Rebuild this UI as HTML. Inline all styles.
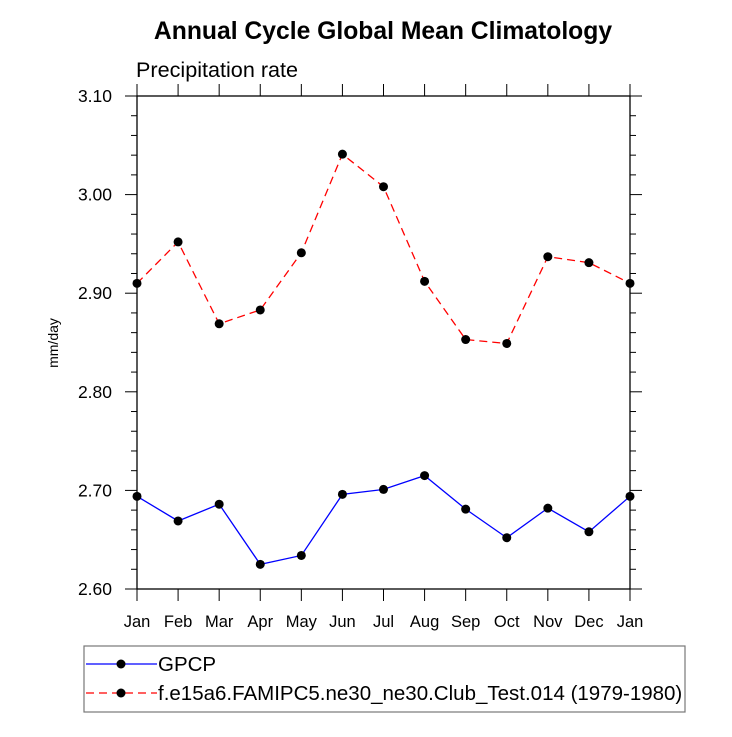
<!DOCTYPE html>
<html><head><meta charset="utf-8"><style>
body{margin:0;background:#fff}
svg text{font-family:"Liberation Sans",sans-serif;fill:#000}
</style></head><body>
<svg id="c" width="732" height="732" viewBox="0 0 732 732" xmlns="http://www.w3.org/2000/svg">
<text x="383" y="39" text-anchor="middle" font-size="24.7" font-weight="bold">Annual Cycle Global Mean Climatology</text>
<text x="136" y="77" font-size="21.6">Precipitation rate</text>
<text transform="translate(58,343) rotate(-90)" text-anchor="middle" font-size="14">mm/day</text>
<g id="axes"></g><g id="series"></g>
<rect x="84" y="646" width="601" height="66" fill="none" stroke="#777" stroke-width="1.2"/>
<g>
<line x1="86" y1="664" x2="157" y2="664" stroke="#00f" stroke-width="1.3"/><circle cx="121" cy="664" r="4.5"/>
<text x="158" y="671" font-size="20.5">GPCP</text></g>
<g>
<line x1="86" y1="693" x2="157" y2="693" stroke="#f00" stroke-width="1.3" stroke-dasharray="8,5"/><circle cx="121" cy="693" r="4.5"/>
<text x="158" y="700" font-size="20.5">f.e15a6.FAMIPC5.ne30_ne30.Club_Test.014 (1979-1980)</text></g>
</svg>
<script>
const months=["Jan","Feb","Mar","Apr","May","Jun","Jul","Aug","Sep","Oct","Nov","Dec","Jan"];
const gpcp=[2.694,2.669,2.686,2.625,2.634,2.696,2.701,2.715,2.681,2.652,2.682,2.658,2.694];
const model=[2.910,2.952,2.869,2.883,2.941,3.041,3.008,2.912,2.853,2.849,2.937,2.931,2.910];
const yTicks=["2.60","2.70","2.80","2.90","3.00","3.10"];
const L=137,R=630,T=96,B=589,ymin=2.6,ymax=3.1;
const xs=i=>L+(R-L)*i/(months.length-1);
const ys=v=>B-(B-T)*(v-ymin)/(ymax-ymin);
const NS="http://www.w3.org/2000/svg";
function mk(t,a,p){const e=document.createElementNS(NS,t);for(const k in a)e.setAttribute(k,a[k]);p.appendChild(e);return e;}
const ax=document.getElementById('axes'),sg=document.getElementById('series');
const fr=mk('rect',{x:L,y:T,width:R-L,height:B-T,fill:'none',stroke:'#000','stroke-width':1.3},ax);


for(let k=0;k<=25;k++){const v=ymin+k*0.02,y=ys(v),maj=k%5===0,len=maj?12:6;
mk('line',{x1:L-len,y1:y,x2:L,y2:y,stroke:'#000','stroke-width':1},ax);
mk('line',{x1:R,y1:y,x2:R+len,y2:y,stroke:'#000','stroke-width':1},ax);}
yTicks.forEach(s=>{const t=mk('text',{x:L-25,y:ys(parseFloat(s))+6,'text-anchor':'end','font-size':17.5},ax);t.textContent=s;

});
months.forEach((m,i)=>{const x=xs(i);
mk('line',{x1:x,y1:B,x2:x,y2:B+12,stroke:'#000','stroke-width':1},ax);
mk('line',{x1:x,y1:T,x2:x,y2:T-12,stroke:'#000','stroke-width':1},ax);
const t=mk('text',{x:x,y:B+38,'text-anchor':'middle','font-size':16.5},ax);t.textContent=m;

});
function draw(d,col,dash,name){const p=mk('polyline',{points:d.map((v,i)=>xs(i)+','+ys(v)).join(' '),fill:'none',stroke:col,'stroke-width':1.3},sg);
if(dash)p.setAttribute('stroke-dasharray',dash);


d.forEach((v,i)=>{const c=mk('circle',{cx:xs(i),cy:ys(v),r:4.5},sg);

});}
draw(gpcp,'#00f',null,'gpcp');
draw(model,'#f00','8,5','model');
</script>
</body></html>
